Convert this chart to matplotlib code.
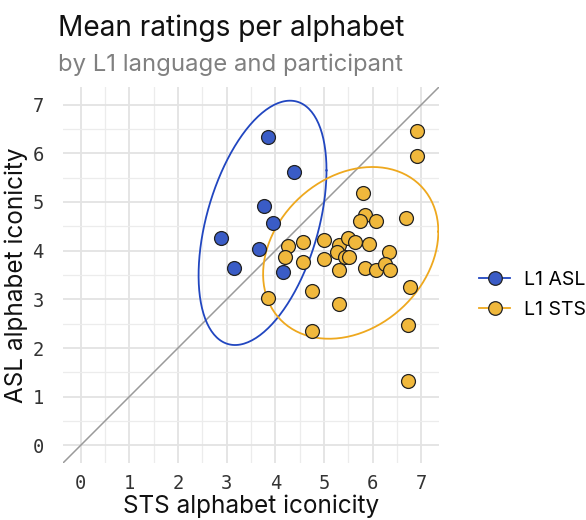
import numpy as np
import matplotlib
matplotlib.use("Agg")
import matplotlib.pyplot as plt
from matplotlib.lines import Line2D

# mean ratings per participant (x = STS iconicity, y = ASL iconicity)
asl_x = [3.84, 4.38, 3.77, 3.96, 2.89, 3.66, 3.16, 4.16]
asl_y = [6.34, 5.61, 4.91, 4.56, 4.26, 4.03, 3.64, 3.56]

sts_x = [5.81, 5.85, 5.73, 6.07, 6.69, 4.27, 4.57, 5.00, 5.30, 5.49, 5.64,
         5.92, 6.34, 4.19, 4.57, 5.00, 5.26, 5.43, 5.51, 5.30, 5.84, 6.07,
         6.25, 6.35, 6.77, 4.76, 3.84, 5.30, 4.76, 6.73, 6.73, 6.91, 6.91]
sts_y = [5.18, 4.74, 4.60, 4.60, 4.67, 4.10, 4.18, 4.22, 4.11, 4.26, 4.18,
         4.14, 3.98, 3.87, 3.76, 3.83, 3.97, 3.87, 3.87, 3.61, 3.65, 3.61,
         3.72, 3.61, 3.25, 3.18, 3.03, 2.91, 2.36, 2.48, 1.33, 6.45, 5.95]

# 95% F quantiles with df (2, n-1), as used by stat_ellipse
f95 = {"asl": 4.737, "sts": 3.295}

blue_fill = "#3a5cc6"
blue_line = "#2146c0"
gold_fill = "#f0b83c"
gold_line = "#eea81e"


def cov_trob(pts, nu=5, maxit=25, tol=0.01):
    # multivariate t robust covariance, like MASS::cov.trob
    n, p = pts.shape
    loc = pts.mean(axis=0)
    w = np.ones(n)
    for _ in range(maxit):
        w0 = w
        X = pts - loc
        _, d, vt = np.linalg.svd(np.sqrt(w / w.sum())[:, None] * X,
                                 full_matrices=False)
        wX = X @ vt.T / d
        Q = (wX ** 2).sum(axis=1)
        w = (nu + p) / (nu + Q)
        loc = (w[:, None] * pts).sum(axis=0) / w.sum()
        if np.all(np.abs(w - w0) < tol):
            break
    X = pts - loc
    cov = (np.sqrt(w)[:, None] * X).T @ (np.sqrt(w)[:, None] * X) / n
    return loc, cov


def ellipse(x, y, fq, npts=200):
    center, cov = cov_trob(np.column_stack([x, y]))
    chol = np.linalg.cholesky(cov)
    t = np.linspace(0, 2 * np.pi, npts)
    circ = np.column_stack([np.cos(t), np.sin(t)])
    radius = np.sqrt(2 * fq)
    return center + radius * circ @ chol.T


fig = plt.figure(figsize=(5.86, 5.2), dpi=100)
ax = fig.add_axes([0.1075, 0.1096, 0.6416, 0.7231])

lims = (-0.36, 7.36)
ax.plot(lims, lims, color="#9a9a9a", lw=1.1, zorder=2)

for xs, ys, fq, lc in [(asl_x, asl_y, f95["asl"], blue_line),
                       (sts_x, sts_y, f95["sts"], gold_line)]:
    e = ellipse(xs, ys, fq)
    ax.plot(e[:, 0], e[:, 1], color=lc, lw=1.3, zorder=3)

ax.scatter(sts_x, sts_y, s=100, c=gold_fill, edgecolors="#222222",
           linewidths=0.9, zorder=4)
ax.scatter(asl_x, asl_y, s=100, c=blue_fill, edgecolors="#222222",
           linewidths=0.9, zorder=5)

ax.set_xticks(range(8))
ax.set_yticks(range(8))
ax.set_xticks(np.arange(0.5, 7.5, 1), minor=True)
ax.set_yticks(np.arange(0.5, 7.5, 1), minor=True)
ax.set_xlim(lims)
ax.set_ylim(lims)
ax.set_aspect("equal", adjustable="box")
ax.grid(which="major", color="#e3e3e3", lw=1.3)
ax.grid(which="minor", color="#ececec", lw=0.9)
ax.set_axisbelow(True)
for s in ax.spines.values():
    s.set_visible(False)
ax.tick_params(which="both", length=0)
ax.tick_params(axis="x", pad=8)
ax.tick_params(axis="y", pad=14)
for lab in ax.get_xticklabels() + ax.get_yticklabels():
    lab.set_family("DejaVu Sans Mono")
    lab.set_fontsize(13.5)
    lab.set_color("#333333")

ax.set_xlabel("STS alphabet iconicity", family="Inter", fontsize=17.5,
              color="#111111", labelpad=1)
ax.set_ylabel("ASL alphabet iconicity", family="Inter", fontsize=17.5,
              color="#111111", labelpad=3)

fig.text(0.099, 0.93, "Mean ratings per alphabet", family="Inter",
         fontsize=20.2, color="#111111")
fig.text(0.099, 0.864, "by L1 language and participant", family="Inter",
         fontsize=17.2, color="#808080")

handles = [
    Line2D([], [], color=blue_line, lw=1.3, marker="o", markersize=9.8,
           markerfacecolor=blue_fill, markeredgecolor="#222222",
           markeredgewidth=0.9),
    Line2D([], [], color=gold_line, lw=1.3, marker="o", markersize=9.8,
           markerfacecolor=gold_fill, markeredgecolor="#222222",
           markeredgewidth=0.9),
]
leg = fig.legend(handles, ["L1 ASL", "L1 STS"], loc="center left",
                 bbox_to_anchor=(0.818, 0.433), frameon=False,
                 prop={"family": "Inter", "size": 14}, handlelength=1.6,
                 labelspacing=0.6, handletextpad=0.7, borderaxespad=0,
                 borderpad=0)

fig.savefig("out.png", dpi=100, facecolor="white")
